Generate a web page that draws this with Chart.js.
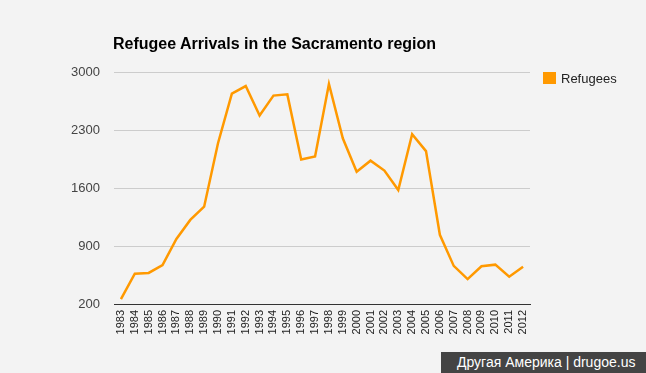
<!DOCTYPE html>
<html>
<head>
    <meta charset="UTF-8">
    <title>Refugee Arrivals</title>
    <script src="https://cdn.jsdelivr.net/npm/chart.js@4/dist/chart.umd.min.js"></script>
    <style>
        html, body { margin: 0; padding: 0; background: #f3f3f3; font-family: "Liberation Sans", Arial, sans-serif; }
        #wrap { position: relative; width: 646px; height: 373px; overflow: hidden; }
        #title { position: absolute; left: 113px; top: 35px; font-size: 16px; font-weight: bold; color: #000; white-space: nowrap; }
        #legend { position: absolute; left: 543px; top: 71px; font-size: 13px; color: #222; white-space: nowrap; }
        #legend span.box { display: inline-block; width: 13px; height: 12px; background: #ff9900; vertical-align: -1px; margin-right: 5px; }
        #credit { position: absolute; left: 441px; top: 352px; width: 205px; height: 21px; background: #444; color: #fff; font-size: 14px; line-height: 21px; text-indent: 16px; white-space: nowrap; }
    </style>
</head>
<body>
<div id="wrap">
    <canvas id="line-chart" width="646" height="373"></canvas>
    <div id="title">Refugee Arrivals in the Sacramento region</div>
    <div id="legend"><span class="box"></span>Refugees</div>
    <div id="credit">Другая Америка | drugoe.us</div>
</div>
<script>
    var years = ['1983', '1984', '1985', '1986', '1987', '1988', '1989', '1990', '1991', '1992',
        '1993', '1994', '1995', '1996', '1997', '1998', '1999', '2000', '2001', '2002',
        '2003', '2004', '2005', '2006', '2007', '2008', '2009', '2010', '2011', '2012'];
    var refugees = [260, 565, 575, 670, 985, 1215, 1375, 2140, 2740, 2830,
        2475, 2715, 2730, 1945, 1980, 2855, 2200, 1795, 1930, 1810,
        1575, 2250, 2045, 1035, 660, 500, 655, 675, 530, 650];
    var yTicks = [200, 900, 1600, 2300, 3000];

    var config = {
        type: 'line',
        data: {
            labels: years,
            datasets: [{
                label: 'Refugees',
                data: refugees,
                borderColor: '#ff9900',
                backgroundColor: '#ff9900',
                borderWidth: 2.5,
                pointRadius: 0,
                tension: 0,
                fill: false
            }]
        },
        options: {
            responsive: false,
            animation: false,
            layout: { padding: { left: 0, right: 116, top: 72, bottom: 0 } },
            plugins: {
                legend: { display: false },
                title: { display: false },
                tooltip: { enabled: false }
            },
            scales: {
                x: {
                    offset: true,
                    grid: { display: false, drawTicks: false },
                    border: { display: true, color: '#333', width: 1 },
                    ticks: {
                        minRotation: 90, maxRotation: 90, autoSkip: false, padding: 6,
                        color: '#222', font: { family: '"Liberation Sans", Arial', size: 11 }
                    },
                    afterFit: function (scale) { scale.height = 69; }
                },
                y: {
                    min: 200, max: 3000,
                    afterBuildTicks: function (scale) {
                        scale.ticks = yTicks.map(function (v) { return { value: v }; });
                    },
                    grid: { color: '#cccccc', lineWidth: 1, drawTicks: false },
                    border: { display: false },
                    ticks: {
                        padding: 14, color: '#444',
                        font: { family: '"Liberation Sans", Arial', size: 13 },
                        callback: function (v) { return String(v); }
                    },
                    afterFit: function (scale) { scale.width = 114; }
                }
            }
        }
    };
    new Chart(document.getElementById('line-chart'), config);
</script>
</body>
</html>
